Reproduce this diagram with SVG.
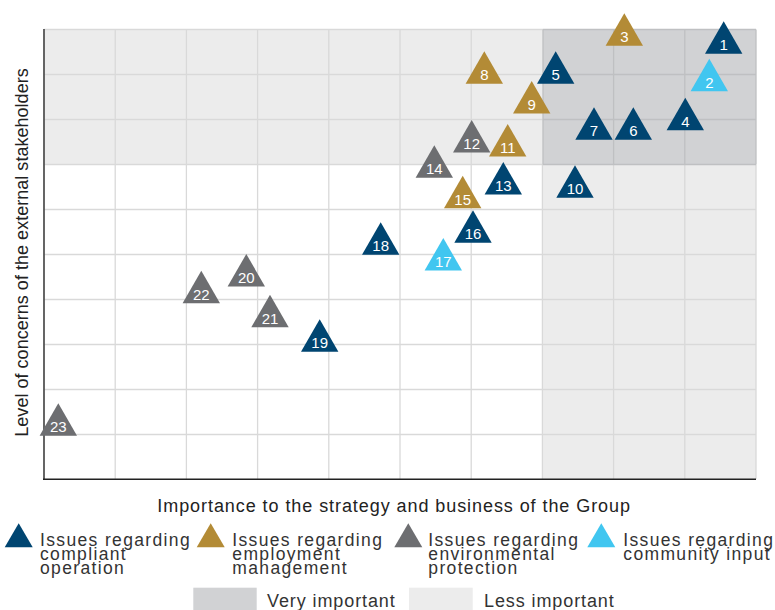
<svg xmlns="http://www.w3.org/2000/svg" xmlns:xlink="http://www.w3.org/1999/xlink" width="775" height="610" viewBox="0 0 775 610">
<style>
.t{font-family:"Liberation Sans",Arial,Helvetica,sans-serif}
.lbl{font-family:"Liberation Sans",Arial,sans-serif;font-size:15px;fill:#fff;text-anchor:middle}
.blue{fill:#004571}
.gold{fill:#b38b36}
.gray{fill:#6d6e71}
.sky{fill:#41c6f0}
.grid{stroke:#d9d9d9;stroke-width:1.3}
.gridd{stroke:#bfc0c2;stroke-width:1.3}
.leg{font-family:"Liberation Sans",Arial,sans-serif;font-size:17.5px;fill:#333;letter-spacing:1.35px}
.ax{font-family:"Liberation Sans",Arial,sans-serif;font-size:18px;fill:#222}
</style>
<defs>
<path id="tri" d="M0,0 L18.7,32.5 L-18.7,32.5 Z"/>
<path id="ltri" d="M0,0 L14,24 L-14,24 Z"/>
</defs>
<rect width="775" height="610" fill="#fff"/>
<g id="plot-bg">
<rect x="44" y="29.5" width="499" height="135" fill="#ececec"/>
<rect x="543" y="164.5" width="213" height="314.5" fill="#ececec"/>
<rect x="543" y="29.5" width="213" height="135" fill="#d1d2d4"/>
</g>
<g id="grid">
<g class="grid">
<line x1="115.2" y1="29.5" x2="115.2" y2="479"/>
<line x1="186.4" y1="29.5" x2="186.4" y2="479"/>
<line x1="257.6" y1="29.5" x2="257.6" y2="479"/>
<line x1="328.8" y1="29.5" x2="328.8" y2="479"/>
<line x1="400" y1="29.5" x2="400" y2="479"/>
<line x1="471.2" y1="29.5" x2="471.2" y2="479"/>
<line x1="542.4" y1="164.5" x2="542.4" y2="479"/>
<line x1="613.6" y1="164.5" x2="613.6" y2="479"/>
<line x1="684.8" y1="164.5" x2="684.8" y2="479"/>
<line x1="756" y1="164.5" x2="756" y2="479"/>
<line x1="44" y1="29.5" x2="543" y2="29.5"/>
<line x1="44" y1="74.5" x2="543" y2="74.5"/>
<line x1="44" y1="119.5" x2="543" y2="119.5"/>
<line x1="44" y1="164.5" x2="543" y2="164.5"/>
<line x1="44" y1="209.5" x2="756" y2="209.5"/>
<line x1="44" y1="254.5" x2="756" y2="254.5"/>
<line x1="44" y1="299.5" x2="756" y2="299.5"/>
<line x1="44" y1="344.5" x2="756" y2="344.5"/>
<line x1="44" y1="389.5" x2="756" y2="389.5"/>
<line x1="44" y1="434.5" x2="756" y2="434.5"/>
</g>
<g class="gridd">
<line x1="543" y1="29.5" x2="756" y2="29.5"/>
<line x1="543" y1="74.5" x2="756" y2="74.5"/>
<line x1="543" y1="119.5" x2="756" y2="119.5"/>
<line x1="543" y1="164.5" x2="756" y2="164.5"/>
<line x1="543" y1="29.5" x2="543" y2="164.5"/>
<line x1="613.6" y1="29.5" x2="613.6" y2="164.5"/>
<line x1="684.8" y1="29.5" x2="684.8" y2="164.5"/>
<line x1="756" y1="29.5" x2="756" y2="164.5"/>
</g>
</g>
<g id="axes">
<line x1="44" y1="29" x2="44" y2="480" stroke="#555" stroke-width="1.8"/>
<line x1="43" y1="479.2" x2="756" y2="479.2" stroke="#222" stroke-width="1.6"/>
<text class="ax" x="157.3" y="511.7" textLength="472.7" lengthAdjust="spacing">Importance to the strategy and business of the Group</text>
<text class="ax" transform="translate(28.3,436.7) rotate(-90)" x="0" y="0" textLength="368.4" lengthAdjust="spacing">Level of concerns of the external stakeholders</text>
</g>
<g id="connectors"></g>
<g id="n1"><use href="#tri" x="723.7" y="21.3" class="blue"/><text class="lbl" x="723.7" y="50.3">1</text></g>
<g id="n2"><use href="#tri" x="709.3" y="58.7" class="sky"/><text class="lbl" x="709.3" y="87.7">2</text></g>
<g id="n3"><use href="#tri" x="624.3" y="13.3" class="gold"/><text class="lbl" x="624.3" y="42.3">3</text></g>
<g id="n4"><use href="#tri" x="685.3" y="97.7" class="blue"/><text class="lbl" x="685.3" y="126.7">4</text></g>
<g id="n5"><use href="#tri" x="555.7" y="51.3" class="blue"/><text class="lbl" x="555.7" y="80.3">5</text></g>
<g id="n6"><use href="#tri" x="633.3" y="107.3" class="blue"/><text class="lbl" x="633.3" y="136.3">6</text></g>
<g id="n7"><use href="#tri" x="594" y="107.3" class="blue"/><text class="lbl" x="594" y="136.3">7</text></g>
<g id="n8"><use href="#tri" x="484.3" y="51.3" class="gold"/><text class="lbl" x="484.3" y="80.3">8</text></g>
<g id="n9"><use href="#tri" x="531.7" y="81" class="gold"/><text class="lbl" x="531.7" y="110">9</text></g>
<g id="n10"><use href="#tri" x="575" y="165.3" class="blue"/><text class="lbl" x="575" y="194.3">10</text></g>
<g id="n11"><use href="#tri" x="507.7" y="124" class="gold"/><text class="lbl" x="507.7" y="153">11</text></g>
<g id="n12"><use href="#tri" x="471.7" y="120" class="gray"/><text class="lbl" x="471.7" y="149">12</text></g>
<g id="n13"><use href="#tri" x="503.3" y="162" class="blue"/><text class="lbl" x="503.3" y="191">13</text></g>
<g id="n14"><use href="#tri" x="434.3" y="145.3" class="gray"/><text class="lbl" x="434.3" y="174.3">14</text></g>
<g id="n15"><use href="#tri" x="462.7" y="175.7" class="gold"/><text class="lbl" x="462.7" y="204.7">15</text></g>
<g id="n16"><use href="#tri" x="473" y="210.3" class="blue"/><text class="lbl" x="473" y="239.3">16</text></g>
<g id="n17"><use href="#tri" x="443.3" y="238" class="sky"/><text class="lbl" x="443.3" y="267">17</text></g>
<g id="n18"><use href="#tri" x="380.7" y="222.3" class="blue"/><text class="lbl" x="380.7" y="251.3">18</text></g>
<g id="n19"><use href="#tri" x="319.7" y="319.3" class="blue"/><text class="lbl" x="319.7" y="348.3">19</text></g>
<g id="n20"><use href="#tri" x="246.3" y="254" class="gray"/><text class="lbl" x="246.3" y="283">20</text></g>
<g id="n21"><use href="#tri" x="270" y="294.7" class="gray"/><text class="lbl" x="270" y="323.7">21</text></g>
<g id="n22"><use href="#tri" x="201.3" y="270.7" class="gray"/><text class="lbl" x="201.3" y="299.7">22</text></g>
<g id="n23"><use href="#tri" x="58.3" y="403.3" class="gray"/><text class="lbl" x="58.3" y="432.3">23</text></g>
<g id="legend">
<use href="#ltri" x="18.7" y="523.3" class="blue"/>
<text class="leg" x="40" y="545.7">Issues regarding</text>
<text class="leg" x="40" y="560">compliant</text>
<text class="leg" x="40" y="574.3">operation</text>
<use href="#ltri" x="210.7" y="523.3" class="gold"/>
<text class="leg" x="232.3" y="545.7">Issues regarding</text>
<text class="leg" x="232.3" y="560">employment</text>
<text class="leg" x="232.3" y="574.3">management</text>
<use href="#ltri" x="408.3" y="523.3" class="gray"/>
<text class="leg" x="428.3" y="545.7">Issues regarding</text>
<text class="leg" x="428.3" y="560">environmental</text>
<text class="leg" x="428.3" y="574.3">protection</text>
<use href="#ltri" x="601.3" y="523.3" class="sky"/>
<text class="leg" x="623.3" y="545.7">Issues regarding</text>
<text class="leg" x="623.3" y="560">community input</text>
<rect x="193.3" y="587.7" width="63.4" height="22.3" fill="#d1d2d4"/>
<text class="leg" x="267" y="606.7" style="font-size:18px;letter-spacing:0.9px">Very important</text>
<rect x="409" y="587.7" width="63.7" height="22.3" fill="#ececec"/>
<text class="leg" x="484" y="606.7" style="font-size:18px;letter-spacing:0.9px">Less important</text>
</g>
</svg>
